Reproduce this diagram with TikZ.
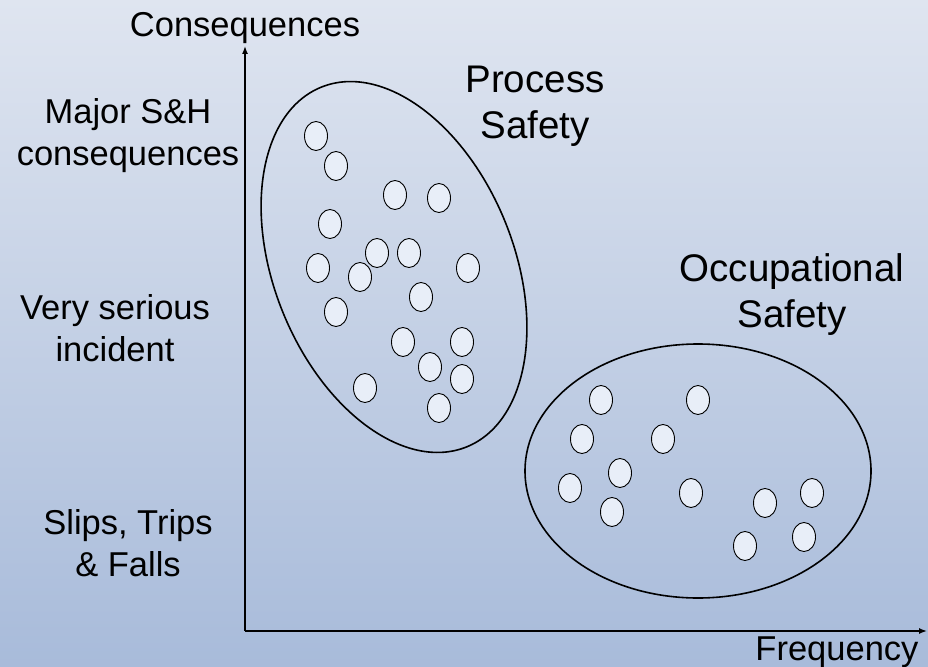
\documentclass[tikz,border=0pt]{standalone}
\usepackage{fontspec}
\setmainfont{Liberation Sans}
\usepackage{xcolor}
\usepackage{tikz}
\usetikzlibrary{arrows.meta}
\usetikzlibrary{shapes.geometric}

\definecolor{bgtop}{HTML}{DFE5F0}
\definecolor{bgbot}{HTML}{A8BBDA}
\definecolor{dotfill}{HTML}{E8EEF8}

\tikzset{
    axis/.style={line width=1.4pt, -{Latex[length=8pt,width=6pt]}},
    region/.style={ellipse, draw, line width=1.6pt, inner sep=0pt},
    dot/.style={ellipse, draw, line width=0.9pt, fill=dotfill, inner sep=0pt,
                minimum width=23pt, minimum height=29pt},
    axislabel/.style={align=center, font=\fontsize{34.5}{42}\selectfont},
    regionlabel/.style={align=center, font=\fontsize{38.5}{46}\selectfont}
}

\begin{document}
\begin{tikzpicture}[x=1pt, y=-1pt]
            \useasboundingbox (0,0) rectangle (928,666);
            \shade[top color=bgtop, bottom color=bgbot] (0,0) rectangle (928,666);

            % axes
            \coordinate (origin) at (245,631);
            \coordinate (ytip) at (245,46);
            \coordinate (xtip) at (927,631);
            \draw[axis] (origin) -- (ytip);
            \draw[axis] (origin) -- (xtip);

            \node[axislabel] (cons) at (245,28) {Consequences};
            \node[axislabel, anchor=east] (freq) at (922,652) {Frequency};

            \node[axislabel] (major) at (128,136) {Major S\&H\\consequences};
            \node[axislabel] (serious) at (115,328) {Very serious\\incident};
            \node[axislabel] (slips) at (128,543) {Slips, Trips\\\& Falls};

            % the two regions
            \node[region, minimum width=240pt, minimum height=388pt, rotate=22] (ps) at (394,267) {};
            \node[region, minimum width=346pt, minimum height=254pt] (os) at (698,471) {};

            \node[regionlabel] (pslabel) at (535,106) {Process\\Safety};
            \node[regionlabel] (oslabel) at (792,295) {Occupational\\Safety};

            % process safety incidents
            \node[dot] (p1) at (316,136) {};
            \node[dot] (p2) at (336,166) {};
            \node[dot] (p3) at (395,195) {};
            \node[dot] (p4) at (439,198) {};
            \node[dot] (p5) at (330,224) {};
            \node[dot] (p6) at (377,253) {};
            \node[dot] (p7) at (409,253) {};
            \node[dot] (p8) at (318,268) {};
            \node[dot] (p9) at (360,277) {};
            \node[dot] (p10) at (468,268) {};
            \node[dot] (p11) at (421,297) {};
            \node[dot] (p12) at (336,312) {};
            \node[dot] (p13) at (403,342) {};
            \node[dot] (p14) at (462,342) {};
            \node[dot] (p15) at (430,367) {};
            \node[dot] (p16) at (462,379) {};
            \node[dot] (p17) at (365,388) {};
            \node[dot] (p18) at (439,408) {};

            % occupational safety incidents
            \node[dot] (o1) at (601,400) {};
            \node[dot] (o2) at (698,400) {};
            \node[dot] (o3) at (582,439) {};
            \node[dot] (o4) at (663,439) {};
            \node[dot] (o5) at (620,473) {};
            \node[dot] (o6) at (570,488) {};
            \node[dot] (o7) at (691,493) {};
            \node[dot] (o8) at (612,512) {};
            \node[dot] (o9) at (765,503) {};
            \node[dot] (o10) at (812,493) {};
            \node[dot] (o11) at (745,546) {};
            \node[dot] (o12) at (804,537) {};
        \end{tikzpicture}
\end{document}
